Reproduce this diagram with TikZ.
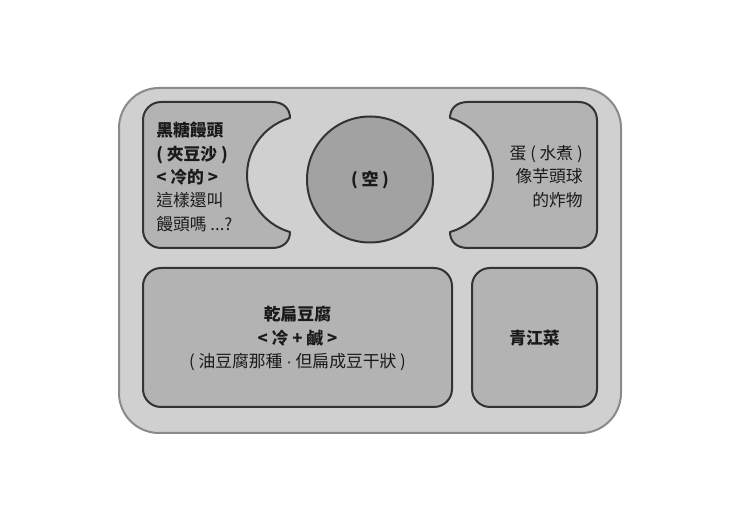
\documentclass[tikz,border=0pt]{standalone}
\usepackage{fontspec}
\setmainfont{Noto Sans CJK TC}
\newfontfamily\latinf{Liberation Sans}
\definecolor{trayfill}{HTML}{D0D0D0}
\definecolor{trayedge}{HTML}{8A8A8A}
\definecolor{compfill}{HTML}{B3B3B3}
\definecolor{compedge}{HTML}{333333}
\definecolor{circfill}{HTML}{A2A2A2}
\definecolor{textcol}{HTML}{1A1A1A}
\begin{document}
\begin{tikzpicture}[x=0.75pt,y=0.75pt,
  tray/.style={draw=trayedge, fill=trayfill, line width=1.5pt},
  comp/.style={draw=compedge, fill=compfill, line width=1.5pt, line join=round},
  lbl/.style={inner sep=0pt, font=\fontsize{12.6}{17.5}\selectfont, text=textcol}]
\useasboundingbox[fill=white] (0,0) rectangle (740,-523);
% tray
\draw[tray, rounded corners=30pt] (119,-88) rectangle (621,-433);
% top-left compartment
\draw[comp] (161,-102) -- (272,-102) .. controls (284,-102) and (290,-109) .. (290,-118)
  arc[start angle=106, end angle=254, radius=44.475pt]
  .. controls (290,-241) and (284,-248) .. (272,-248) -- (161,-248)
  arc[start angle=270, end angle=180, radius=13.5pt] -- (143,-120)
  arc[start angle=180, end angle=90, radius=13.5pt] -- cycle;
% top-right compartment
\draw[comp] (579,-102) -- (468,-102) .. controls (456,-102) and (450,-109) .. (450,-118)
  arc[start angle=74, end angle=-74, radius=44.475pt]
  .. controls (450,-241) and (456,-248) .. (468,-248) -- (579,-248)
  arc[start angle=270, end angle=360, radius=13.5pt] -- (597,-120)
  arc[start angle=0, end angle=90, radius=13.5pt] -- cycle;
% middle circle
\node[circle, draw=compedge, fill=circfill, line width=1.5pt, minimum size=94.5pt,
  inner sep=0pt, font=\fontsize{12.6}{17.5}\selectfont\bfseries, text=textcol]
  (empty) at (370,-179.5) {( 空 )};
% bottom compartments
\draw[comp, rounded corners=13.5pt] (143,-268) rectangle (452,-407);
\draw[comp, rounded corners=13.5pt] (472,-268) rectangle (597,-407);
% texts
\node[lbl, anchor=west, align=left] (ltxt) at (156,-177)
  {\textbf{黑糖饅頭}\\\textbf{( 夾豆沙 )}\\\textbf{< 冷的 >}\\這樣還叫\\饅頭嗎 ...?};
\node[lbl, anchor=east, align=right] (rtxt) at (583,-176.5)
  {蛋 ( 水煮 )\\像芋頭球\\的炸物};
\node[lbl, align=center] (btxt) at (297.5,-338.5)
  {\textbf{乾扁豆腐}\\\textbf{< 冷 + 鹹 >}\\( 油豆腐那種 {\latinf ·} 但扁成豆干狀 )};
\node[lbl] (veg) at (534.5,-338) {\textbf{青江菜}};
\end{tikzpicture}
\end{document}
